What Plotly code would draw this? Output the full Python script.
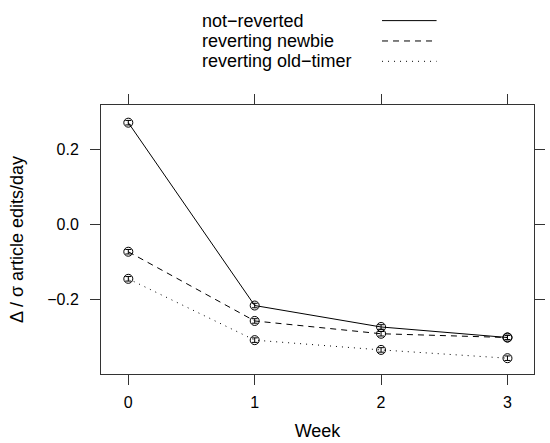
import plotly.graph_objects as go

weeks = [0, 1, 2, 3]
series_names = ["not\u2212reverted", "reverting newbie", "reverting old\u2212timer"]
not_reverted = [0.271, -0.215, -0.272, -0.300]
reverting_newbie = [-0.072, -0.256, -0.290, -0.300]
reverting_oldtimer = [-0.144, -0.307, -0.333, -0.355]
errors = [0.006, 0.006, 0.006, 0.006]
dashes = ["solid", "6px,5px", "1px,5px"]
y_ticks = [-0.2, 0.0, 0.2]
y_ticklabels = ["\u22120.2", "0.0", "0.2"]

FONT = "Liberation Sans, Arial, Helvetica, sans-serif"
fig = go.Figure()
for name, vals, d in zip(series_names, [not_reverted, reverting_newbie, reverting_oldtimer], dashes):
    fig.add_trace(go.Scatter(
        x=weeks, y=vals, mode="lines+markers", name=name,
        line=dict(color="black", width=1, dash=d),
        marker=dict(symbol="circle-open", size=9, color="black", line=dict(width=1, color="black")),
        error_y=dict(type="data", array=errors, color="black", thickness=1, width=3),
        showlegend=False,
    ))

# Legend drawn manually (text left, line sample right); paper coords relative to plot area
leg_y = [1.3137, 1.2380, 1.1624]
for name, d, yy in zip(series_names, dashes, leg_y):
    fig.add_annotation(x=0.2275, y=yy, xref="paper", yref="paper", text=name,
                       showarrow=False, xanchor="left", yanchor="middle",
                       font=dict(family=FONT, size=18, color="black"))
    fig.add_shape(type="line", xref="paper", yref="paper",
                  x0=0.649, x1=0.775, y0=yy, y1=yy,
                  line=dict(color="black", width=1, dash=d))

fig.update_layout(
    width=550, height=443,
    margin=dict(l=101, r=5, t=105, b=68),
    paper_bgcolor="white", plot_bgcolor="white",
    font=dict(family=FONT, size=16, color="black"),
    xaxis=dict(range=[-0.216, 3.21], tickvals=weeks, ticktext=[str(w) for w in weeks],
               ticks="outside", ticklen=10, tickcolor="#333", showline=True, linecolor="#333",
               linewidth=1, mirror="ticks", showgrid=False, zeroline=False,
               ticklabelstandoff=4,
               title=dict(text="Week", font=dict(size=18), standoff=14)),
    yaxis=dict(range=[-0.397, 0.318], tickvals=y_ticks, ticktext=y_ticklabels,
               ticks="outside", ticklen=10, tickcolor="#333", showline=True, linecolor="#333",
               linewidth=1, mirror="ticks", showgrid=False, zeroline=False,
               ticklabelstandoff=8,
               title=dict(text="\u0394 / \u03c3 article edits/day", font=dict(size=18), standoff=18)),
)
fig.write_html("out.html")
